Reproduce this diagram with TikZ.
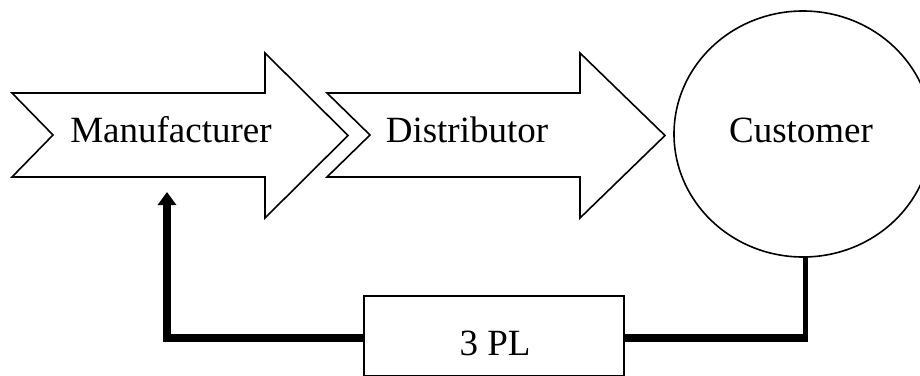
\documentclass[tikz,border=0pt]{standalone}
\usepackage{fontspec}
\setmainfont{Liberation Serif}
\usetikzlibrary{arrows.meta,shapes.geometric}
\begin{document}
\begin{tikzpicture}[x=1pt,y=-1pt,
  shapeline/.style={draw=black,line width=1.6pt,line join=miter,fill=white},
  lbl/.style={anchor=base,inner sep=0pt,font=\fontsize{37}{40}\selectfont},
  feed/.style={line width=8pt,line join=miter}]
\useasboundingbox (0,0) rectangle (920,375);
% arrows
\draw[shapeline] (12,93) -- (265,93) -- (265,53) -- (348,135.5) -- (265,218) -- (265,177) -- (12,177) -- (53,135) -- cycle;
\draw[shapeline] (327,93) -- (580,93) -- (580,53) -- (665,135.5) -- (580,218) -- (580,177) -- (327,177) -- (370,135) -- cycle;
% customer
\node[ellipse,shapeline,inner sep=0pt,minimum width=258pt,minimum height=246pt] (cust) at (803,134) {};
% 3PL box
\node[draw=black,line width=1.6pt,inner sep=0pt,minimum width=260pt,minimum height=80pt,anchor=north west] (tpl) at (363,295) {};
% labels
\node[lbl] (lman) at (171,142) {Manufacturer};
\node[lbl] (ldis) at (467,142) {Distributor};
\node[lbl] (lcus) at (801,142) {Customer};
\node[lbl] (ltpl) at (495,355) {3 PL};
% connectors
\coordinate (tplL) at (tpl.west |- 0,338);
\coordinate (tplR) at (tpl.east |- 0,338);
\coordinate (bendL) at (167,338);
\coordinate (tipL) at (167,192);
\coordinate (bendR) at (805,338);
\coordinate (custB) at (805,257);
\draw[feed,-{Triangle[width=18pt,length=13pt]}] (tplL) -- (bendL) -- (tipL);
\draw[feed] (tplR) -- ([xshift=2.5pt]bendR);
\draw[line width=5pt] ([yshift=-4pt]bendR) -- (custB);
\end{tikzpicture}
\end{document}
